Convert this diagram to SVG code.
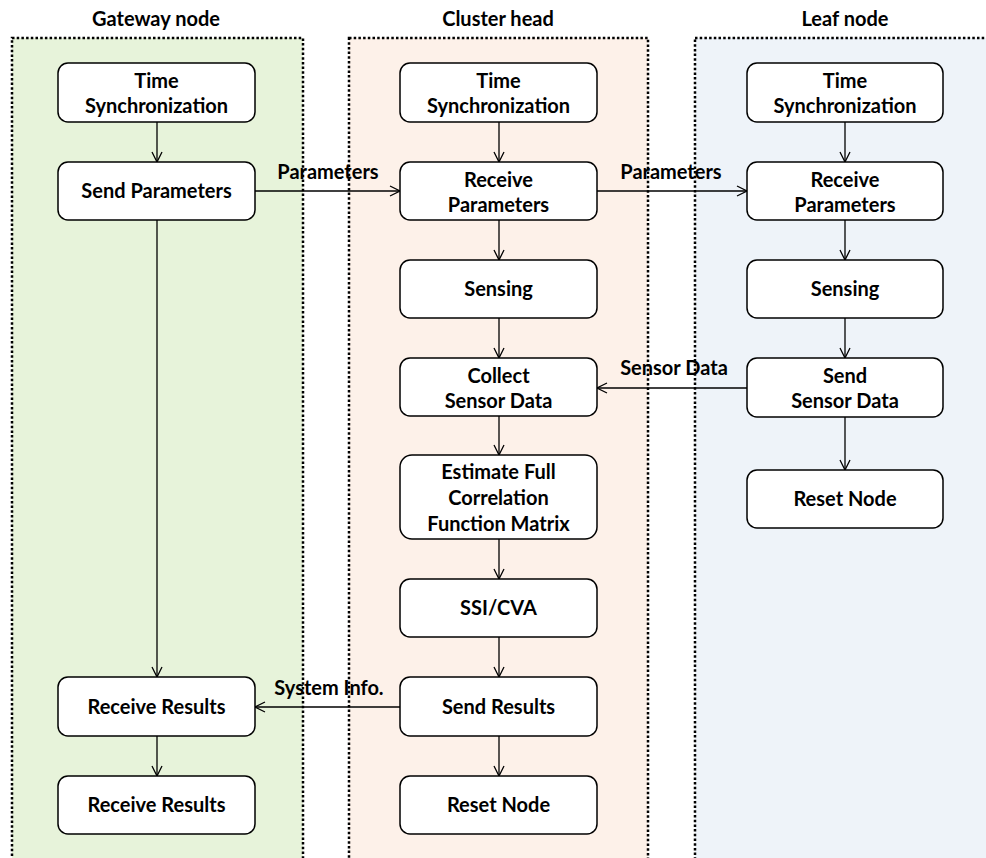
<svg xmlns="http://www.w3.org/2000/svg" width="986" height="858" viewBox="0 0 986 858">
<style>
.lane{stroke:#000;stroke-width:2.5;stroke-dasharray:2.5 2.2}
.box{fill:#fff;stroke:#000;stroke-width:1.5}
.t{font-family:Lato,"Liberation Sans",sans-serif;font-weight:bold;font-size:20px;text-anchor:middle;fill:#000}
.c{stroke:#000;stroke-width:1.3;fill:none;marker-end:url(#a)}
</style>
<defs>
<marker id="a" viewBox="0 0 12 12" refX="11" refY="6" markerWidth="12" markerHeight="12" markerUnits="userSpaceOnUse" orient="auto">
<polyline points="1,1 11,6 1,11" fill="none" stroke="#000" stroke-width="1.3"/>
</marker>
</defs>
<rect width="986" height="858" fill="#fff"/>
<g id="lanes">
<rect class="lane" x="12" y="38" width="291" height="830" fill="#e7f3da"/>
<rect class="lane" x="349" y="38" width="299" height="830" fill="#fdf1e9"/>
<rect class="lane" x="695" y="38" width="300" height="830" fill="#eef3f9"/>
<text class="t" x="156" y="26">Gateway node</text>
<text class="t" x="498" y="26">Cluster head</text>
<text class="t" x="845" y="26">Leaf node</text>
</g>
<g id="connectors">
<line class="c" x1="157" y1="122" x2="157" y2="162"/>
<line class="c" x1="157" y1="220" x2="157" y2="677"/>
<line class="c" x1="157" y1="736" x2="157" y2="776"/>
<line class="c" x1="499" y1="122" x2="499" y2="162"/>
<line class="c" x1="499" y1="220" x2="499" y2="260"/>
<line class="c" x1="499" y1="318" x2="499" y2="358"/>
<line class="c" x1="499" y1="416" x2="499" y2="455"/>
<line class="c" x1="499" y1="539" x2="499" y2="579"/>
<line class="c" x1="499" y1="637" x2="499" y2="677"/>
<line class="c" x1="499" y1="736" x2="499" y2="776"/>
<line class="c" x1="845" y1="122" x2="845" y2="162"/>
<line class="c" x1="845" y1="220" x2="845" y2="260"/>
<line class="c" x1="845" y1="318" x2="845" y2="358"/>
<line class="c" x1="845" y1="417" x2="845" y2="470"/>
<line class="c" x1="255" y1="191" x2="400" y2="191"/>
<line class="c" x1="597" y1="191" x2="747" y2="191"/>
<line class="c" x1="747" y1="388" x2="597" y2="388"/>
<line class="c" x1="400" y1="707" x2="255" y2="707"/>
<text class="t" x="328" y="179">Parameters</text>
<text class="t" x="671" y="179">Parameters</text>
<text class="t" x="674" y="375">Sensor Data</text>
<text class="t" x="329" y="695">System Info.</text>
</g>
<g id="g-time"><rect class="box" x="58" y="63" width="197" height="59" rx="10"/><text class="t" x="156.5" y="88">Time</text><text class="t" x="156.5" y="113">Synchronization</text></g>
<g id="g-send"><rect class="box" x="58" y="162" width="197" height="58" rx="10"/><text class="t" x="156.5" y="198">Send Parameters</text></g>
<g id="g-recv1"><rect class="box" x="58" y="677" width="197" height="59" rx="10"/><text class="t" x="156.5" y="714">Receive Results</text></g>
<g id="g-recv2"><rect class="box" x="58" y="776" width="197" height="58" rx="10"/><text class="t" x="156.5" y="812">Receive Results</text></g>
<g id="c-time"><rect class="box" x="400" y="63" width="197" height="59" rx="10"/><text class="t" x="498.5" y="88">Time</text><text class="t" x="498.5" y="113">Synchronization</text></g>
<g id="c-recv"><rect class="box" x="400" y="162" width="197" height="58" rx="10"/><text class="t" x="498.5" y="187">Receive</text><text class="t" x="498.5" y="212">Parameters</text></g>
<g id="c-sense"><rect class="box" x="400" y="260" width="197" height="58" rx="10"/><text class="t" x="498.5" y="296">Sensing</text></g>
<g id="c-collect"><rect class="box" x="400" y="358" width="197" height="58" rx="10"/><text class="t" x="498.5" y="383">Collect</text><text class="t" x="498.5" y="408">Sensor Data</text></g>
<g id="c-est"><rect class="box" x="400" y="455" width="197" height="84" rx="12"/><text class="t" x="498.5" y="479">Estimate Full</text><text class="t" x="498.5" y="505">Correlation</text><text class="t" x="498.5" y="531">Function Matrix</text></g>
<g id="c-ssi"><rect class="box" x="400" y="579" width="197" height="58" rx="10"/><text class="t" x="498.5" y="615">SSI/CVA</text></g>
<g id="c-sendres"><rect class="box" x="400" y="677" width="197" height="59" rx="10"/><text class="t" x="498.5" y="714">Send Results</text></g>
<g id="c-reset"><rect class="box" x="400" y="776" width="197" height="58" rx="10"/><text class="t" x="498.5" y="812">Reset Node</text></g>
<g id="l-time"><rect class="box" x="747" y="63" width="196" height="59" rx="10"/><text class="t" x="845" y="88">Time</text><text class="t" x="845" y="113">Synchronization</text></g>
<g id="l-recv"><rect class="box" x="747" y="162" width="196" height="58" rx="10"/><text class="t" x="845" y="187">Receive</text><text class="t" x="845" y="212">Parameters</text></g>
<g id="l-sense"><rect class="box" x="747" y="260" width="196" height="58" rx="10"/><text class="t" x="845" y="296">Sensing</text></g>
<g id="l-send"><rect class="box" x="747" y="358" width="196" height="59" rx="10"/><text class="t" x="845" y="383">Send</text><text class="t" x="845" y="408">Sensor Data</text></g>
<g id="l-reset"><rect class="box" x="747" y="470" width="196" height="58" rx="10"/><text class="t" x="845" y="506">Reset Node</text></g>
</svg>
